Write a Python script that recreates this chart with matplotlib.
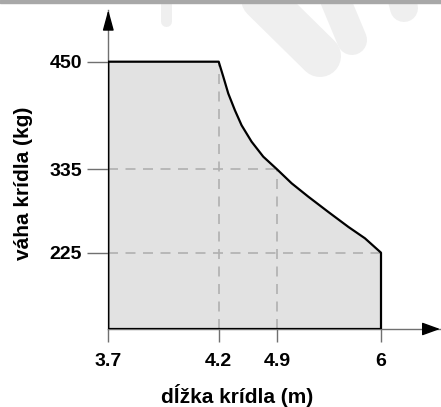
import numpy as np
import matplotlib
matplotlib.use("Agg")
import matplotlib.pyplot as plt
from matplotlib.patches import Polygon, Rectangle
from matplotlib.lines import Line2D
from matplotlib.transforms import IdentityTransform

plt.rcParams["font.family"] = ["Liberation Sans", "DejaVu Sans"]
plt.rcParams["font.weight"] = "bold"

# --- data: hranica (dĺžka krídla, váha krídla) ---
wing_len = [3.7, 4.2, 4.255, 4.315, 4.395, 4.475, 4.595, 4.735, 4.9,
            5.055, 5.23, 5.44, 5.655, 5.83, 6.0]
wing_wt = [450, 450, 434, 416, 398, 382, 364.5, 348.5, 335,
           316.5, 299, 279, 259, 244, 225]
x_ticks = [3.7, 4.2, 4.9, 6]
x_labels = ["3.7", "4.2", "4.9", "6"]
y_ticks = [225, 335, 450]
y_labels = ["225", "335", "450"]

# schematic axes: ticks are not evenly spaced -> piecewise-linear scales
x_knots = [3.7, 4.2, 4.9, 6.0, 6.62]
x_knot_pos = [0, 110.4, 168.7, 272.7, 331.7]
y_knots = [125, 225, 335, 450, 505]
y_knot_pos = [0, 76.3, 159.7, 267.3, 319]

fig = plt.figure(figsize=(4.41, 4.07), dpi=100)
ax = fig.add_axes([108.3 / 441, 78 / 407, 331.7 / 441, 319 / 407])
ax.set_facecolor("none")

# watermark + top band (decoration)
wm = "#efefef"
for (x0, y0, x1, y1, w) in [(166, 0, 166, 21, 11), (255, -8, 320, 56, 42),
                            (332, -8, 352, 40, 30), (400, -8, 404, 8, 28)]:
    fig.add_artist(Line2D([x0, x1], [407 - y0, 407 - y1], transform=IdentityTransform(),
                          color=wm, lw=w * 0.72, solid_capstyle="round", zorder=-5))
fig.add_artist(Rectangle((0, 1 - 3 / 407), 1, 3 / 407, transform=fig.transFigure,
                         color="#a8a8a8", zorder=-4))

ax.set_xscale("function", functions=(lambda v: np.interp(v, x_knots, x_knot_pos),
                                     lambda p: np.interp(p, x_knot_pos, x_knots)))
ax.set_yscale("function", functions=(lambda v: np.interp(v, y_knots, y_knot_pos),
                                     lambda p: np.interp(p, y_knot_pos, y_knots)))
ax.set_xlim(x_knots[0], x_knots[-1])
ax.set_ylim(y_knots[0], y_knots[-1])

base = y_knots[0]
pts = [(wing_len[0], base)] + list(zip(wing_len, wing_wt)) + [(wing_len[-1], base)]
ax.add_patch(Polygon(pts, closed=True, facecolor="#e2e2e2", edgecolor="none", zorder=2))
ax.add_patch(Polygon(pts, closed=True, facecolor="none", edgecolor="black",
                     lw=1.6, zorder=4, joinstyle="round"))

# dashed guides inside the region
dash = dict(color="#b0b0b0", lw=1.2, ls=(0, (6, 4.5)), zorder=3)
ax.plot([4.2, 4.2], [base, 450], **dash)
ax.plot([4.9, 4.9], [base, 335], **dash)
ax.plot([3.7, 4.9], [335, 335], **dash)
ax.plot([3.7, 6.0], [225, 225], **dash)

for s in ["top", "right"]:
    ax.spines[s].set_visible(False)
for s in ["left", "bottom"]:
    ax.spines[s].set_color("#707070")
    ax.spines[s].set_linewidth(1.0)

ax.set_xticks(x_ticks, x_labels)
ax.set_yticks(y_ticks, y_labels)
ax.minorticks_off()
ax.tick_params(axis="x", length=9.5, width=1, color="#707070", pad=8, labelsize=14)
ax.tick_params(axis="y", length=15, width=1, color="#707070", pad=4, labelsize=14)
for t in ax.get_xticklabels() + ax.get_yticklabels():
    t.set_fontweight("bold")

# arrow heads on the axes
ax.annotate("", xy=(0, 1), xytext=(0, 0.98), xycoords="axes fraction",
            arrowprops=dict(arrowstyle="-|>,head_length=12.5,head_width=3.4",
                            mutation_scale=1, color="black", lw=1, shrinkA=0, shrinkB=0),
            annotation_clip=False)
ax.annotate("", xy=(1, 0), xytext=(0.98, 0), xycoords="axes fraction",
            arrowprops=dict(arrowstyle="-|>,head_length=11,head_width=4",
                            mutation_scale=1, color="black", lw=1, shrinkA=0, shrinkB=0),
            annotation_clip=False)

ax.set_xlabel("dĺžka krídla (m)", fontsize=15, fontweight="bold")
ax.set_ylabel("váha krídla (kg)", fontsize=15, fontweight="bold")
ax.xaxis.set_label_coords(0.388, -0.172)
ax.yaxis.set_label_coords(-0.227, 0.458)

fig.savefig("out.png", dpi=100)
